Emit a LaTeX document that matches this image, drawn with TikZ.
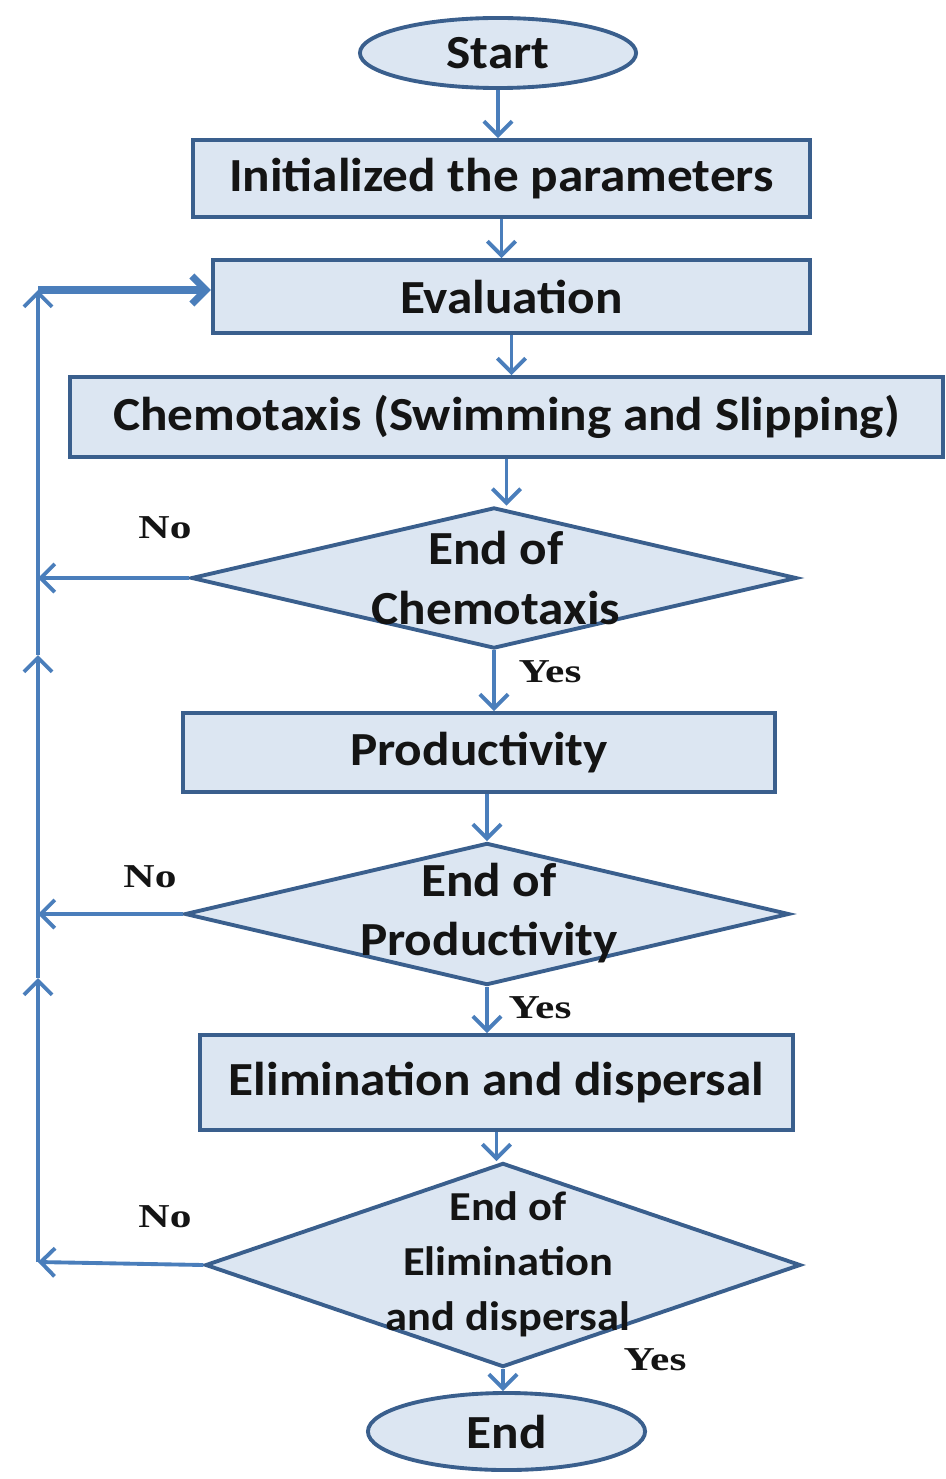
\documentclass[tikz,border=0pt]{standalone}
\usepackage{fontspec}
\setmainfont{Carlito}[FakeStretch=1.08]
\newfontfamily\yesnofont{Liberation Serif}[FakeStretch=1.3]
\usetikzlibrary{shapes.geometric,arrows.meta}

\definecolor{flowblue}{HTML}{4A7EBB}
\definecolor{edgeblue}{HTML}{3A5F8D}
\definecolor{boxfill}{HTML}{DCE6F2}
\definecolor{textdark}{HTML}{141414}

\tikzset{
  box/.style={draw=edgeblue, fill=boxfill, line width=1.1pt, inner sep=0pt, text=textdark, font=\bfseries\fontsize{13.5}{16}\selectfont},
  term/.style={box, ellipse},
  decision/.style={draw=edgeblue, fill=boxfill, line width=1.1pt, diamond, inner sep=0pt},
  dtext/.style={text=textdark, align=center, font=\bfseries\fontsize{13.5}{16.8}\selectfont},
  wire/.style={draw=flowblue, line width=1.1pt},
  flow/.style={wire, -{Straight Barb[length=4pt,width=8pt]}},
  yesno/.style={text=textdark, font=\yesnofont\bfseries\fontsize{9.5}{10}\selectfont},
}

\begin{document}
\begin{tikzpicture}[x=0.01cm, y=-0.01cm]
\useasboundingbox (0,0) rectangle (946,1479);

% blocks
\node[term, minimum width=2.76cm, minimum height=0.70cm] (start) at (498,53) {Start};
\node[box, minimum width=6.17cm, minimum height=0.77cm] (init) at (501.5,178.5) {Initialized the parameters};
\node[box, minimum width=5.97cm, minimum height=0.73cm] (eval) at (511.5,296.5) {Evaluation};
\node[box, minimum width=8.73cm, minimum height=0.80cm] (chem) at (506.5,417) {Chemotaxis (Swimming and Slipping)};
\node[decision, minimum width=6.05cm, minimum height=1.41cm] (d1) at (494,578) {};
\node[dtext] (d1text) at (496,578) {End of\\Chemotaxis};
\node[box, minimum width=5.92cm, minimum height=0.79cm] (prod) at (479,752.5) {Productivity};
\node[decision, minimum width=6.04cm, minimum height=1.42cm] (d2) at (487,914) {};
\node[dtext] (d2text) at (489,913) {End of\\Productivity};
\node[box, minimum width=5.93cm, minimum height=0.95cm] (elim) at (496.5,1082.5) {Elimination and dispersal};
\node[decision, minimum width=5.95cm, minimum height=2.04cm] (d3) at (503,1265) {};
\node[dtext, font=\bfseries\fontsize{11.7}{15.6}\selectfont] (d3text) at (508,1264) {End of\\Elimination\\and dispersal};
\node[term, minimum width=2.77cm, minimum height=0.77cm] (end) at (506.5,1431.5) {End};

% main flow
\draw[flow] (start.south) -- (start.south |- init.north);
\draw[flow] (init.south) -- (init.south |- eval.north);
\draw[flow] (eval.south) -- (eval.south |- chem.north);
\draw[flow] (chem.south) -- (chem.south |- d1.north);
\draw[flow] (d1.south) -- (d1.south |- prod.north);
\draw[flow] (d2.north |- prod.south) -- (d2.north);
\draw[flow] (d2.south) -- (d2.south |- elim.north);
\draw[flow] (elim.south) -- (elim.south |- d3.north);
\draw[flow] (d3.south) -- (d3.south |- end.north);

% loop back
\coordinate (l0) at (38,290);
\coordinate (l1) at (38,578);
\coordinate (l2) at (38,914);
\coordinate (l3) at (38,1262);
\coordinate (u1) at (38,655);
\coordinate (u2) at (38,978);
\draw[flow] (d1.west) -- (l1);
\draw[flow] (d2.west) -- (l2);
\draw[flow] (d3.west) -- (l3);
\draw[flow] (l3) -- (u2);
\draw[wire] (u2) -- (l2);
\draw[flow] (l2) -- (u1);
\draw[wire] (u1) -- (l1);
\draw[flow] (l1) -- (l0);
\draw[flow, line width=2pt] (l0) -- (eval.west |- l0);

% labels
\node[yesno] (no1) at (165,528) {No};
\node[yesno] (yes1) at (550,672) {Yes};
\node[yesno] (no2) at (150,877) {No};
\node[yesno] (yes2) at (540,1008) {Yes};
\node[yesno] (no3) at (165,1217) {No};
\node[yesno] (yes3) at (655,1360) {Yes};

\end{tikzpicture}
\end{document}
